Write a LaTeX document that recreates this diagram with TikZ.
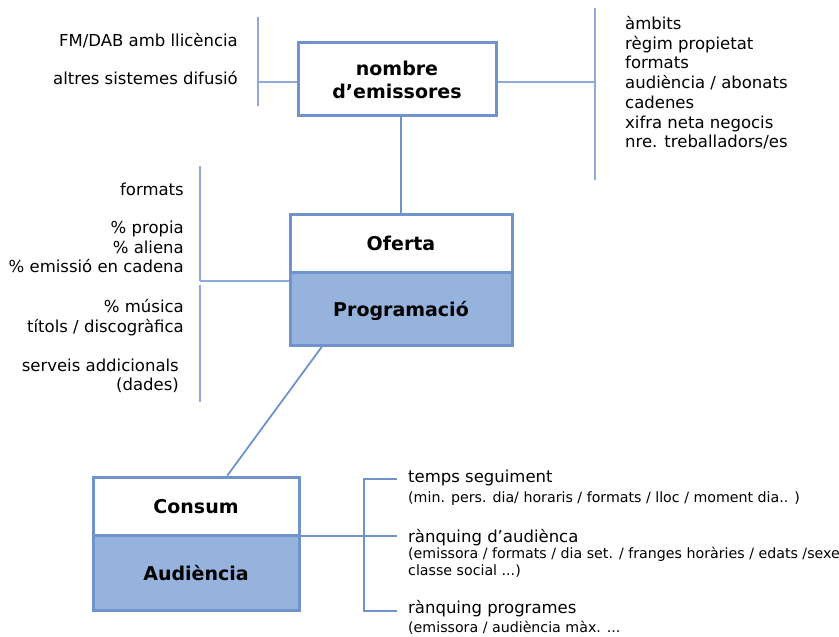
\documentclass[tikz,border=0pt]{standalone}
\usepackage{fontspec}
\setmainfont{DejaVu Sans}
\usetikzlibrary{calc}
\definecolor{bdc}{RGB}{112,146,205}
\definecolor{lnc}{RGB}{142,169,219}
\definecolor{fillc}{RGB}{149,179,220}
\tikzset{
  thinln/.style={draw=lnc, line width=1.4pt},
  thickln/.style={draw=bdc, line width=2.6pt},
  box/.style={draw=bdc, line width=3pt, rectangle, inner sep=0pt},
  lbl/.style={font=\fontsize{16.5}{19}\selectfont, inner sep=0pt},
  sml/.style={font=\fontsize{14.2}{16}\selectfont, inner sep=0pt},
  bx/.style={font=\bfseries\fontsize{19}{22}\selectfont, inner sep=0pt},
}
\begin{document}
\begin{tikzpicture}[x=1pt,y=-1pt]
\useasboundingbox (0,0) rectangle (839,637);
% boxes
\node[box, fill=white, minimum width=198pt, minimum height=73pt] (top) at (397,78.5) {};
\node[box, fill=white, minimum width=222pt, minimum height=58pt] (of) at (401,243) {};
\node[box, fill=fillc, minimum width=222pt, minimum height=73pt] (prog) at (401,308.5) {};
\node[box, fill=white, minimum width=206pt, minimum height=58pt] (cons) at (196,506) {};
\node[box, fill=fillc, minimum width=206pt, minimum height=75pt] (aud) at (196,572.5) {};
% box texts
\node[bx, anchor=base] (t1) at (397,75) {nombre};
\node[bx, anchor=base] (t2) at (397,98) {d’emissores};
\node[bx, anchor=base] (t3) at (401,250) {Oferta};
\node[bx, anchor=base] (t4) at (401,316) {Programació};
\node[bx, anchor=base] (t5) at (196,513) {Consum};
\node[bx, anchor=base] (t6) at (196,580) {Audiència};
% top-left connector
\coordinate (tl) at (258,82);
\coordinate (tlT) at (258,17);
\coordinate (tlB) at (258,106);
\draw[thinln] (tlT) -- (tlB);
\draw[thinln] (tl) -- (tl -| top.west);
\node[lbl, anchor=base east] (fm) at (238,46) {FM/DAB amb llicència};
\node[lbl, anchor=base east] (al) at (238,84) {altres sistemes difusió};
% top-right connector
\coordinate (tr) at (595,82);
\coordinate (trT) at (595,8);
\coordinate (trB) at (595,180);
\draw[thinln] (trT) -- (trB);
\draw[thinln] (tr -| top.east) -- (tr);
\node[lbl, anchor=base west] (r1) at (625,29) {àmbits};
\node[lbl, anchor=base west] (r2) at (625,49) {règim propietat};
\node[lbl, anchor=base west] (r3) at (625,68.5) {formats};
\node[lbl, anchor=base west] (r4) at (625,88) {audiència / abonats};
\node[lbl, anchor=base west] (r5) at (625,108) {cadenes};
\node[lbl, anchor=base west] (r6) at (625,128) {xifra neta negocis};
\node[lbl, anchor=base west] (r7) at (625,147.5) {nre. treballadors/es};
% top to oferta
\draw[thickln] (of.north |- top.south) -- (of.north);
% middle-left connector
\coordinate (ml) at (200,281);
\coordinate (mlT) at (200,166);
\coordinate (mlA) at (200,281);
\coordinate (mlC) at (200,285);
\coordinate (mlB) at (200,402);
\draw[thinln] (mlT) -- (mlA);
\draw[thinln] (mlC) -- (mlB);
\draw[thinln] (ml) -- (ml -| prog.west);
\node[lbl, anchor=base east] (m1) at (184,195) {formats};
\node[lbl, anchor=base east] (m2) at (184,233) {\% propia};
\node[lbl, anchor=base east] (m3) at (184,253) {\% aliena};
\node[lbl, anchor=base east] (m4) at (184,272) {\% emissió en cadena};
\node[lbl, anchor=base east] (m5) at (184,312) {\% música};
\node[lbl, anchor=base east] (m6) at (184,332) {títols / discogràfica};
\node[lbl, anchor=base east] (m7) at (179,371) {serveis addicionals};
\node[lbl, anchor=base east] (m8) at (179,390) {(dades)};
% diagonal
\draw[bdc, line width=1.8pt] ($(prog.south west)!0.149!(prog.south east)$) -- ($(cons.north west)!0.65!(cons.north east)$);
% bottom bracket
\coordinate (bm) at (364,536);
\coordinate (bT) at (364,479);
\coordinate (bB) at (364,611);
\coordinate (bTe) at (397,479);
\coordinate (bMe) at (397,536);
\coordinate (bBe) at (397,611);
\draw[thickln] (bm -| aud.east) -- (bm);
\draw[thickln] (bTe) -- (bT) -- (bB) -- (bBe);
\draw[thickln] (bm) -- (bMe);
\node[lbl, anchor=base west] (b1) at (408,482) {temps seguiment};
\node[sml, anchor=base west] (b2) at (408,502) {(min. pers. dia/ horaris / formats / lloc / moment dia.. )};
\node[lbl, anchor=base west] (b3) at (408,542) {rànquing d’audiènca};
\node[sml, anchor=base west] (b4) at (408,558) {(emissora / formats / dia set. / franges horàries / edats /sexe};
\node[sml, anchor=base west] (b5) at (408,575) {classe social ...)};
\node[lbl, anchor=base west] (b6) at (408,613) {rànquing programes};
\node[sml, anchor=base west] (b7) at (408,632) {(emissora / audiència màx. ...};
\end{tikzpicture}
\end{document}
